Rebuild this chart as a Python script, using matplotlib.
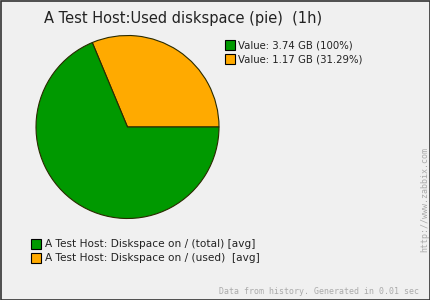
import matplotlib
matplotlib.use("Agg")
import matplotlib.pyplot as plt
from matplotlib.patches import Rectangle

# Data
title = "A Test Host:Used diskspace (pie)  (1h)"
series_names = ["A Test Host: Diskspace on / (total) [avg]",
                "A Test Host: Diskspace on / (used)  [avg]"]
values_gb = [3.74, 1.17]
percents = [100, 31.29]
colors = ["#009900", "#ffaa00"]

W, H = 430, 300
fig = plt.figure(figsize=(W / 100, H / 100), dpi=100)
fig.patch.set_facecolor("#f0f0f0")

# overlay axes in pixel coordinates
ov = fig.add_axes([0, 0, 1, 1])
ov.set_xlim(0, W)
ov.set_ylim(H, 0)
ov.axis("off")
ov.add_patch(Rectangle((0.5, 0.5), W - 1, H - 1, fill=False,
                       edgecolor="#333333", linewidth=1.2))

ov.text(44, 19, title, fontsize=10.5, color="#222222", va="center",
        ha="left", family="DejaVu Sans")

# top-right legend with values
for i, (v, p, c) in enumerate(zip(values_gb, percents, colors)):
    y = 45 + i * 14
    ov.add_patch(Rectangle((224.5, y - 5), 10, 10, facecolor=c,
                           edgecolor="black", linewidth=0.8))
    ov.text(238, y, f"Value: {v:.2f} GB ({p:g}%)", fontsize=7.3,
            color="#222222", va="center", ha="left")

# bottom legend
for i, (name, c) in enumerate(zip(series_names, colors)):
    y = 244 + i * 14
    ov.add_patch(Rectangle((30.5, y - 5), 10, 10, facecolor=c,
                           edgecolor="black", linewidth=0.8))
    ov.text(45, y, name, fontsize=7.55, color="#222222", va="center",
            ha="left")

ov.text(419, 292, "Data from history. Generated in 0.01 sec",
        fontsize=5.95, color="#aaaaaa", ha="right", va="center",
        family="DejaVu Sans Mono")
ov.text(424.5, 199, "http://www.zabbix.com", fontsize=6.05, color="#aaaaaa",
        ha="center", va="center", rotation=90, family="DejaVu Sans Mono")

# pie
cx, cy, r = 127.5, 127.0, 91.5
pa = fig.add_axes([(cx - r) / W, (H - cy - r) / H, 2 * r / W, 2 * r / H])
used_frac = percents[1]
rest = percents[0] - percents[1]
pa.pie([used_frac, rest], colors=[colors[1], colors[0]], startangle=0,
       counterclock=True,
       wedgeprops=dict(edgecolor="#2a2a00", linewidth=0.8))
pa.set_xlim(-1, 1)
pa.set_ylim(-1, 1)
pa.set_aspect("auto")
pa.axis("off")

fig.savefig("out.png", dpi=100, facecolor=fig.get_facecolor())
